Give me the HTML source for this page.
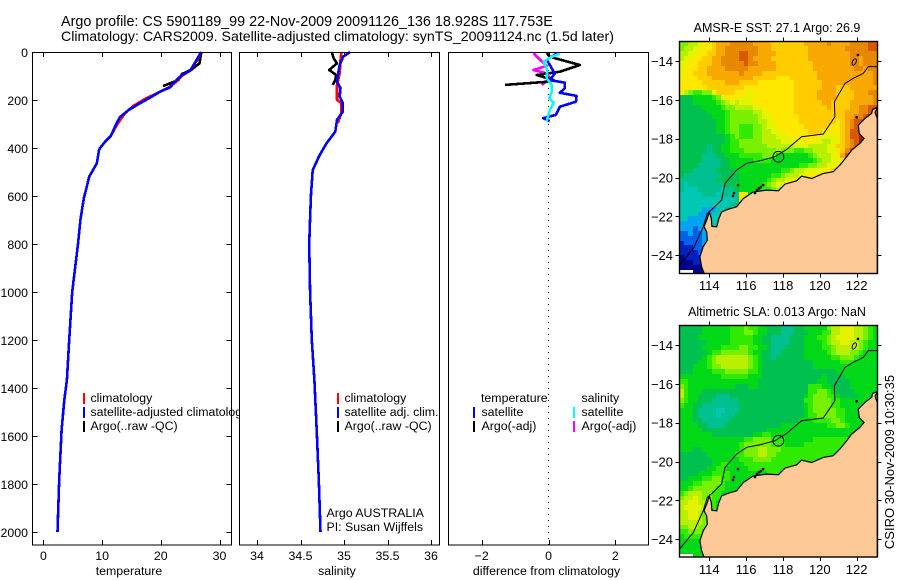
<!DOCTYPE html>
<html lang="en">
<head>
<meta charset="utf-8">
<title>Argo profile</title>
<style>
html,body{margin:0;padding:0;background:#fff}
svg{display:block}
text{font-family:"Liberation Sans",Arial,sans-serif;font-size:12.35px;fill:#000}
</style>
</head>
<body>
<svg id="chart" xmlns="http://www.w3.org/2000/svg" width="900" height="580" viewBox="0 0 900 580">
<rect x="0" y="0" width="900" height="580" fill="#fff"/>
<text style="font-size:14.36px" x="61" y="26">Argo profile: CS 5901189_99 22-Nov-2009 20091126_136 18.928S 117.753E</text>
<text style="font-size:14.17px" x="61" y="41">Climatology: CARS2009. Satellite-adjusted climatology: synTS_20091124.nc (1.5d later)</text>
<text x="0" y="0" transform="translate(894,462) rotate(-90)" text-anchor="middle" style="font-size:13px">CSIRO 30-Nov-2009 10:30:35</text>
</svg>
<script>
// ---- profile data ----
const depthTicks = [0,200,400,600,800,1000,1200,1400,1600,1800,2000];
const tempTicks = [0,10,20,30];
const salTicks = [34,34.5,35,35.5,36];
const salTickLabels = ['34','34.5','35','35.5','36'];
const diffTicks = [-2,0,2];

const tempSatDepth = [0,33,78,96,124,147,165,190,217,242,272,311,349,374,405,464,519,561,608,700,800,900,1000,1200,1367,1450,1575,1783,2000];
const tempSatValue = [26.9,26.1,25.0,23.6,22.4,21.6,19.9,18.2,16.2,14.5,13.0,12.2,11.5,10.5,9.5,9.1,7.8,7.4,6.9,6.3,5.9,5.4,4.9,4.4,4.0,3.56,3.1,2.7,2.4];
const tempClimDepth = [0,33,78,96,124,147,172,196,225,255,304,349];
const tempClimValue = [26.9,26.2,25.0,23.8,22.6,21.4,19.3,17.3,15.3,13.9,12.5,11.5];
const tempArgoDepth = [0,47,72,92,117,130,142];
const tempArgoValue = [26.9,26.6,25.3,23.6,23.0,21.6,20.4];

const salSatDepth = [0,20,54,96,124,150,186,212,249,283,332,380,430,492,600,800,1000,1200,1367,1575,1783,2000];
const salSatValue = [35.07,34.99,34.95,34.93,34.92,34.96,34.95,34.985,34.985,34.92,34.90,34.80,34.72,34.64,34.62,34.60,34.61,34.63,34.66,34.686,34.71,34.73];
const salClimDepth = [0,33,89,137,200,212,254,296];
const salClimValue = [34.97,34.96,34.95,34.92,34.92,34.97,34.97,34.93];
const salArgoDepth = [0,26,47,75,96,117,137];
const salArgoValue = [34.86,34.88,34.92,34.83,34.91,34.90,34.87];

const diffTempSatDepth = [6,33,54,89,117,128,151,170,183,207,228,262,276,288];
const diffTempSatValue = [0.25,-0.05,0.04,0.19,0.04,0.49,0.49,0.34,0.84,0.82,0.34,0.22,-0.16,0.04];
const diffTempArgoDepth = [5,20,54,82,96,117,124,137];
const diffTempArgoValue = [-0.05,0.04,0.94,0.34,-0.35,0.14,-0.05,-1.3];
const diffSalSatDepth = [6,20,40,75,110,137,165,193,211,242,288];
const diffSalSatValue = [0.35,0.1,-0.14,-0.04,-0.05,0.1,0.1,0.02,0.16,0.04,-0.05];
const diffSalArgoDepth = [5,33,58,75,89,110,137];
const diffSalArgoValue = [-0.45,-0.25,-0.05,-0.45,-0.05,0.04,-0.2];

// ---- map data ----
const lonTicks = [114,116,118,120,122];
const latTicks = [-14,-16,-18,-20,-22,-24];
const coastLon = [113.76,113.58,113.49,113.67,113.89,113.86,113.71,113.89,114.0,114.11,114.14,114.40,114.52,114.67,115.03,115.48,115.85,116.39,117.11,117.75,118.11,118.74,119.01,119.56,120.19,120.73,121.09,121.46,121.73,122.18,122.40,122.14,122.09,122.45,122.81,122.87,123.12,123.0,123.12,123.12];
const coastLat = [-25.03,-24.60,-24.09,-23.57,-23.23,-22.80,-22.54,-22.11,-21.77,-22.11,-22.51,-22.54,-22.11,-21.77,-21.63,-21.51,-21.08,-20.74,-20.65,-20.68,-20.34,-20.17,-19.93,-20.05,-19.79,-19.70,-19.36,-18.93,-18.59,-18.24,-17.99,-17.73,-17.30,-16.96,-16.70,-16.49,-16.39,-16.65,-16.96,-25.03];
const isobathLon = [112.37,113.13,113.67,113.89,114.13,114.67,114.85,115.48,116.03,116.75,117.57,118.2,119.01,120.19,120.82,120.79,121.37,121.82,122.36,122.63,123.12];
const isobathLat = [-24.52,-23.66,-22.54,-21.85,-21.65,-21.16,-20.31,-19.62,-19.27,-19.14,-18.93,-18.55,-17.90,-17.76,-16.87,-16.10,-15.15,-14.89,-14.64,-14.29,-14.29];
const islandLon = [115.56,115.34,115.29,116.48,116.59,116.70,116.80,116.92,122.07,122.0];
const islandLat = [-20.39,-20.80,-20.95,-20.80,-20.64,-20.55,-20.49,-20.39,-13.69,-16.90];
const floatLon = 117.75;
const floatLat = -18.93;
const reefLon = 121.87;
const reefLat = -14.05;

const colorKeys = 'abcdefghijklmnopqr';
const colorRamp = ['#00008c','#0020c0','#0060e8','#00a4f0','#00c8b4','#00c090','#00c050','#00d818','#30ea00','#78f000','#b8f000','#e4f400','#ffe800','#ffcc00','#f8a800','#e88800','#d85800','#a82000'];

const sstGrid = [
"jjkklmmnooopppppoooonnnnnnnooooopooooppppqq",
"jkkllmmnoopppppppooonnnnnnnnoooooooopppppqq",
"kkllmmnnoopppqqppoooonnnnnnnooooooooopppppp",
"kllmmnnooppppqqpoooonnnnnnnnoooooooooppoppp",
"llmmnnnoopppppqppoooonnnnnnnnooooooooppoppp",
"lmmmnnoooopppppoooooonnnnnnnnoooooooooppopp",
"lmmnnnooooooopoooonnnnnnnnnnnnoooooooooooop",
"mmmmnnnooooooooonnnnnmmmnnnnnnoooooooooooop",
"mmmmmnnnnnooonnnnmmmmmmmmnnnnnnooooooooooop",
"mmmmmmnnnnnnnnmmmmmmmmmmmnnnnnnooonnnoooooo",
"mkjiijjlnnnnmmmlmmmmmmmmmnnnnnoooonnnnooopp",
"ggghhhhijlmmmlllmmmmmmmmmnnnnnoooonnnnoooop",
"ggghhhhhijklklllmmmmmmmmmnnnnnnoonnnnooooop",
"ggggghhhhijjkkkkllmmmmmmmnnnnnnnonnnnooppqq",
"gggggghhhhijjjjjkkllmmmmmnnnnnnnnnnnoooppqq",
"ggggggghhhijjjjjjkllmmmmmmnnnnnnnnnnooppqrq",
"gggggggghhijjjjjjkkllmmmmmnnnnnnnnmnopqqrrq",
"gggggggghhijjiiijjkllmmmmmmnnnnnmmmnopqqrr",
"gggggggghhijjiiijjkkllmmmmmmnnnmmmmnoqqr",
"gggggggggghijiiijjkkklllmmmmmmmlllmnoqqr",
"gggggggggghiijjjjjkkkklllllmmllkkllnopqrr",
"ggggggfgghhiijjjjjjkkkkkklllkkkkllnnopqrr",
"ggggggfgghhiiijjjjjjjkjjjiijjkkkllmnpqr",
"gggggfffgghhhiiiiijjjhhhhhhhijkkklmoqq",
"gggggffffgghhhhhiiiihhhhhhhhhijkkllmoq",
"ggggfffffgghhhhhhhhhhhhhhhiijjkkllmnop",
"gggfffffgggghhhhhhhhhhiijkkllllmmnoq",
"gffffffffgggghhhhhhhiijkkkllmmmnnopq",
"ffffffffggggghhhhhhijkkllmmnnooopqq",
"feffffffffgghhhhhhijkllmnnnooqqq",
"feeefffffeffghhhhhiijkklmmnoo",
"eeeeefffeffefmmhhhiijjkklmm",
"eeeeeeeeeeeefmggkhhhjmk",
"eeeeeeeeeeefffghhhhjk",
"eeeeedddeeffffghhh",
"eeeedddeeefffgghh",
"eedddddeeeeffggh",
"dddddddeeeff",
"dddcdddeeef",
"ccdccddeee",
"cccccddee",
"bccccddd",
"bbbcccdd",
"bbbbccc",
"abbbbbc",
"aaabbbb",
"aaaaaab",
"...aaaaa"
];

const slaGrid = [
"ggggghhhhhhiiijiihhgggfffgghhhhhjkklllkkjih",
"ggggghhhhhhiiijjihhgggfffggghhhiikklllkkjih",
"gggghhhhhhhiiiiihhggffffggghhhiijkllllkkjih",
"gggggghhhhhiiiiihhggffffggghhhhijkkllkkjihh",
"ggggghhhhiiiijjiihhgfffgggghhhhiijkkkkkjihh",
"gggggghiijjjjjjihhggffggggghhhhhijkkkjjihhh",
"ggggghijkkkkkkkjihggfgggggghhhhhhiijjjihhhh",
"gggghhijkkkkkkkjihggggggggggghhhhhhiiihhhhh",
"ggghhhijjkkkkkkjihggggggggggghhhhhhhhhhhhhh",
"ggghhhhiiijjjjjiihgggggggggggggggghhhhhhhhh",
"hhhhhhhhhiiiiiihhhggggggggggggghgggghhhhhhh",
"iihhhhhhhhhhhhhhhggggggggggggghhggggghhhhhh",
"jihhhhhhhhhhggghhgggggggggggiiihhgggghhhhhh",
"kihhhgggggggggggggggggggggggiijjihgggghhhhh",
"kihhggggfffgggggggggggggggghijjjiihgggghhhh",
"jihhgggffffffggggggggggggggiijjjjiihhhhhhhh",
"ihhggffffffffgggggggggggggghijjjjiihhhhhh",
"hhhgffffeefffgggggggggggggghijjjjjiihhhh",
"hhhgffffefffggggggggggggggghiijjjjiihhhh",
"hhhggffffffggggggggggggggghhhiiiijjihhh",
"hhhhggffffgggggggggggghhhhhhhhhhiijjihh",
"hhhhhgggggggggggggghhhhhhhhhhhhhhhhhh",
"hhhhhhhggggggggghhiihhhhhhhhhhhhhhhhh",
"hhhhhhhhhhhhhhiijjjjiiihhhhhhiiiiiiii",
"hhhhhhhhhhhhhijjjjjjiiihhhhiiiiiiiiii",
"hhhgghhhhhhhhijjjkkjjjiiiiiiiiiiiiii",
"gggggghhhhhhiijjjkkjjiiiiiiiiiiiiii",
"ggggggghhhhhhiiijjjjiiiiiiiiiiiiii",
"ggggggghhiihhhiiiiiiiiiiiiiiiiii",
"gggggghhiihhhhhiiiiiiiiiiiiii",
"gggghhhiiiihhhhhhhhiiiiiiii",
"gghhhiijjiihhhhhhhiiiiii",
"hhhiijjjjihhhhhhhiiiii",
"hhijjjjjiihhhhhhiii",
"ijkkkjjiihhhhhhh",
"jkklkjjiihhhhhh",
"kkllkkjihhhhh",
"kllllkjihhhh",
"kkllkjihhhh",
"kkllkjiihhh",
"kkkkkjiihh",
"jjkkjjiihh",
"iijjjiihh",
"hiiiiihhh",
"hhhhhhhhh",
"hhhhhhhh",
"hhhhhhhh",
"...hhhhh"
];

// ---- drawing ----
const svg = document.getElementById('chart');
const NS = 'http://www.w3.org/2000/svg';

function make(tag, attrs, name, parent) {
  const el = document.createElementNS(NS, tag);
  for (const k in attrs) el.setAttribute(k, attrs[k]);
  
  
  (parent || svg).appendChild(el);
  return el;
}
function label(x, y, str, anchor, name, parent) {
  const t = make('text', {x: x, y: y, 'text-anchor': anchor || 'start'}, name, parent);
  t.textContent = str;
  return t;
}
const numText = v => String(v).replace('-', '\u2212');

const yDepth = d => 52 + d * 0.24;
const xTemp = v => 43.4 + v * 5.87;
const xSal = v => 257 + (v - 34) * 87;
const xDiff = v => 548.5 + v * 33.4;

function series(xFn, values, depths, color, name, g) {
  const pts = values.map((v, i) => xFn(v).toFixed(1) + ',' + yDepth(depths[i]).toFixed(1)).join(' ');
  make('polyline', {points: pts, fill: 'none', stroke: color, 'stroke-width': 2.6, 'stroke-linejoin': 'round', 'shape-rendering': 'crispEdges'}, name, g);
}
function panel(name, x0, x1, xFn, ticks, tickLabels, axisTitle, titleX, withDepth) {
  const top = 52, bottom = 545;
  const g = make('g', {}, name);
  make('rect', {x: x0, y: top, width: x1 - x0, height: bottom - top, fill: '#fff', stroke: 'none'}, name + '-background', g);
  ticks.forEach((t, i) => {
    const x = Math.round(xFn(t)) + 0.5;
    make('line', {x1: x, x2: x, y1: bottom, y2: bottom - 5, stroke: '#000'}, name + '-x-tick', g);
    make('line', {x1: x, x2: x, y1: top, y2: top + 5, stroke: '#000'}, name + '-x-tick-top', g);
    label(xFn(t), 560, tickLabels ? tickLabels[i] : numText(t), 'middle', name + '-x-tick-label', g);
  });
  if (withDepth) {
    depthTicks.forEach(d => {
      const y = Math.round(yDepth(d)) + 0.5;
      make('line', {x1: x0, x2: x0 + 5, y1: y, y2: y, stroke: '#000'}, name + '-y-tick', g);
      make('line', {x1: x1, x2: x1 - 5, y1: y, y2: y, stroke: '#000'}, name + '-y-tick-right', g);
      label(28, yDepth(d) + 5, numText(d), 'end', name + '-y-tick-label', g);
    });
  }
  label(titleX, 575, axisTitle, 'middle', name + '-x-axis-title', g);
  return g;
}
function frame(g, name, x0, x1) {
  make('rect', {x: x0, y: 52.5, width: x1 - x0, height: 492.5, fill: 'none', stroke: '#000', 'stroke-width': 1, 'shape-rendering': 'crispEdges'}, name + '-frame', g);
}
function legendRow(g, markX, textX, y, color, str, name) {
  if (color) make('rect', {x: markX, y: y - 9, width: 2, height: 11, fill: color}, name + '-swatch', g);
  label(textX, y, str, 'start', name + '-label', g);
}

// Temperature panel
const p1 = panel('temperature-panel', 32.5, 231.5, xTemp, tempTicks, null, 'temperature', 129, true);
series(xTemp, tempArgoValue, tempArgoDepth, '#000', 'temperature-argo-line', p1);
series(xTemp, tempClimValue, tempClimDepth, '#f00', 'temperature-climatology-line', p1);
series(xTemp, tempSatValue, tempSatDepth, '#00f', 'temperature-satellite-line', p1);
legendRow(p1, 83, 90.5, 402, '#f00', 'climatology', 'temperature-legend-climatology');
legendRow(p1, 83, 90.5, 416, '#00f', 'satellite-adjusted climatology', 'temperature-legend-satellite');
legendRow(p1, 83, 90.5, 430, '#000', 'Argo(..raw -QC)', 'temperature-legend-argo');
frame(p1, 'temperature-panel', 32.5, 231.5);

// Salinity panel
const p2 = panel('salinity-panel', 239.5, 439.5, xSal, salTicks, salTickLabels, 'salinity', 337, false);
series(xSal, salArgoValue, salArgoDepth, '#000', 'salinity-argo-line', p2);
series(xSal, salClimValue, salClimDepth, '#f00', 'salinity-climatology-line', p2);
series(xSal, salSatValue, salSatDepth, '#00f', 'salinity-satellite-line', p2);
legendRow(p2, 337, 344.5, 402, '#f00', 'climatology', 'salinity-legend-climatology');
legendRow(p2, 337, 344.5, 416, '#00f', 'satellite adj. clim.', 'salinity-legend-satellite');
legendRow(p2, 337, 344.5, 430, '#000', 'Argo(..raw -QC)', 'salinity-legend-argo');
label(326.5, 517, 'Argo AUSTRALIA', 'start', 'float-country-label', p2);
label(326.5, 531, 'PI: Susan Wijffels', 'start', 'float-pi-label', p2);
frame(p2, 'salinity-panel', 239.5, 439.5);

// Difference panel
const p3 = panel('difference-panel', 448.5, 648.5, xDiff, diffTicks, null, 'difference from climatology', 546.5, false);
make('line', {x1: xDiff(0), x2: xDiff(0), y1: 52, y2: 545, stroke: '#000', 'stroke-dasharray': '1 5'}, 'zero-reference-line', p3);
series(xDiff, diffSalArgoValue, diffSalArgoDepth, '#f0f', 'salinity-argo-difference-line', p3);
series(xDiff, diffTempArgoValue, diffTempArgoDepth, '#000', 'temperature-argo-difference-line', p3);
series(xDiff, diffTempSatValue, diffTempSatDepth, '#00f', 'temperature-satellite-difference-line', p3);
series(xDiff, diffSalSatValue, diffSalSatDepth, '#0ff', 'salinity-satellite-difference-line', p3);
legendRow(p3, 0, 481, 402, null, 'temperature', 'difference-legend-temperature-header');
legendRow(p3, 473, 481.5, 416, '#00f', 'satellite', 'difference-legend-temperature-satellite');
legendRow(p3, 473, 481.5, 430, '#000', 'Argo(-adj)', 'difference-legend-temperature-argo');
legendRow(p3, 0, 581.5, 402, null, 'salinity', 'difference-legend-salinity-header');
legendRow(p3, 573, 581.5, 416, '#0ff', 'satellite', 'difference-legend-salinity-satellite');
legendRow(p3, 573, 581.5, 430, '#f0f', 'Argo(-adj)', 'difference-legend-salinity-argo');
frame(p3, 'difference-panel', 448.5, 648.5);

// Maps
function drawMap(name, grid, titleText, titleY, top, bottom, lat14y, lonLabelY) {
  const left = 679.5, right = 877.5;
  const xLon = lon => 709.3 + (lon - 114) * 18.42;
  const yLat = lat => lat14y + (-14 - lat) * 19.42;
  const g = make('g', {}, name);
  const clipId = name + '-clip';
  const defs = make('defs', {}, name + '-defs', g);
  const clip = make('clipPath', {id: clipId}, name + '-clip-path', defs);
  make('rect', {x: left, y: top, width: right - left, height: bottom - top}, name + '-clip-rect', clip);
  const body = make('g', {'clip-path': 'url(#' + clipId + ')'}, name + '-plot-area', g);
  const lonStart = 112.37, latStart = -13, step = 0.25;
  for (let r = 0; r < 48; r++) {
    const row = grid[r];
    for (let c = 0; c < 43; c++) {
      const ch = c < row.length ? row[c] : row[row.length - 1];
      const idx = colorKeys.indexOf(ch);
      if (idx < 0) continue;
      const x0 = Math.round(xLon(lonStart + c * step));
      const x1 = Math.round(xLon(lonStart + (c + 1) * step));
      const y0 = Math.round(yLat(latStart - r * step));
      const y1 = Math.round(yLat(latStart - (r + 1) * step));
      const cell = document.createElementNS(NS, 'rect');
      cell.setAttribute('x', x0);
      cell.setAttribute('y', y0);
      cell.setAttribute('width', x1 - x0);
      cell.setAttribute('height', y1 - y0);
      cell.setAttribute('fill', colorRamp[idx]);
      
      
      body.appendChild(cell);
    }
  }
  const coast = coastLon.map((v, i) => xLon(v).toFixed(1) + ',' + yLat(coastLat[i]).toFixed(1)).join(' ');
  make('polygon', {points: coast, fill: '#fdca97', stroke: '#000', 'stroke-width': 1.2}, name + '-land', body);
  const iso = isobathLon.map((v, i) => xLon(v).toFixed(1) + ',' + yLat(isobathLat[i]).toFixed(1)).join(' ');
  make('polyline', {points: iso, fill: 'none', stroke: '#000', 'stroke-width': 1}, name + '-isobath', body);
  islandLon.forEach((v, i) => {
    make('circle', {cx: xLon(v), cy: yLat(islandLat[i]), r: 1.3, fill: '#000'}, name + '-island', body);
  });
  make('ellipse', {cx: xLon(reefLon), cy: yLat(reefLat), rx: 1.8, ry: 3.4, transform: 'rotate(25 ' + xLon(reefLon) + ' ' + yLat(reefLat) + ')', fill: 'none', stroke: '#000', 'stroke-width': 0.9}, name + '-reef', body);
  make('circle', {cx: xLon(floatLon), cy: yLat(floatLat), r: 5.4, fill: 'none', stroke: '#000', 'stroke-width': 1}, name + '-float-position', body);
  make('rect', {x: left, y: top, width: right - left, height: bottom - top, fill: 'none', stroke: '#000', 'stroke-width': 1.4}, name + '-frame', g);
  lonTicks.forEach(lon => {
    const x = Math.round(xLon(lon)) + 0.5;
    make('line', {x1: x, x2: x, y1: top, y2: top - 4, stroke: '#000'}, name + '-top-tick', g);
    make('line', {x1: x, x2: x, y1: bottom, y2: bottom + 4, stroke: '#000'}, name + '-bottom-tick', g);
    label(xLon(lon), lonLabelY, numText(lon), 'middle', name + '-longitude-label', g).style.fontSize = '13px';
  });
  latTicks.forEach(lat => {
    const y = Math.round(yLat(lat)) + 0.5;
    make('line', {x1: left, x2: left - 4, y1: y, y2: y, stroke: '#000'}, name + '-left-tick', g);
    make('line', {x1: right, x2: right + 4, y1: y, y2: y, stroke: '#000'}, name + '-right-tick', g);
    label(673, yLat(lat) + 5, numText(lat), 'end', name + '-latitude-label', g).style.fontSize = '13px';
  });
  const t = label(777, titleY, titleText, 'middle', name + '-title', g);
  t.style.fontSize = '12.5px';
}
drawMap('sst-map', sstGrid, 'AMSR-E SST: 27.1 Argo: 26.9', 32, 41.5, 273.5, 61, 290);
drawMap('sla-map', slaGrid, 'Altimetric SLA: 0.013 Argo: NaN', 316, 325.5, 557, 345, 574);
</script>
</body>
</html>
